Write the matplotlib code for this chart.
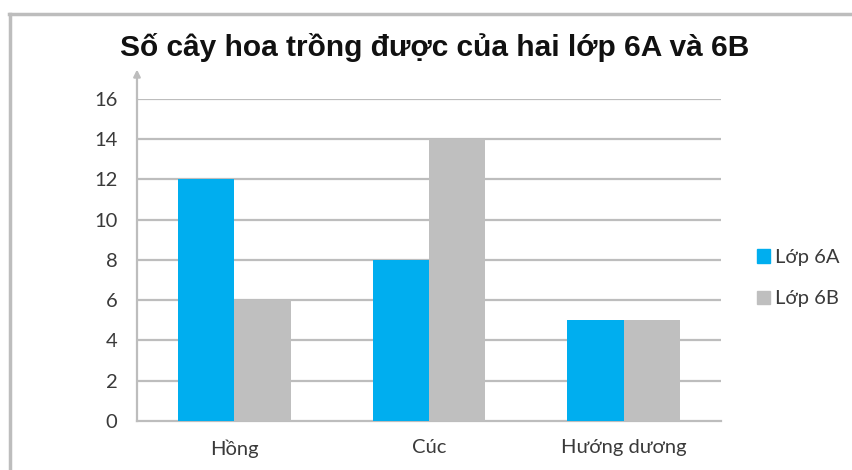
import numpy as np
import matplotlib
matplotlib.use("Agg")
import matplotlib.pyplot as plt
from matplotlib.lines import Line2D
from matplotlib.patches import Patch

categories = ["Hồng", "Cúc", "Hướng dương"]
lop_6a = [12, 8, 5]
lop_6b = [6, 14, 5]
series_names = ["Lớp 6A", "Lớp 6B"]
yticks = [0, 2, 4, 6, 8, 10, 12, 14, 16]

BLUE = "#00AEEF"
GRAY = "#BFBFBF"
LINE = "#BDBDBD"
INK = "#3a3a3a"

fig = plt.figure(figsize=(8.53, 4.70), dpi=100)
ax = fig.add_axes([0.1606, 0.1043, 0.6847, 0.6851])

x = np.arange(len(categories))
w = 0.29
ax.bar(x - w / 2, lop_6a, w, color=BLUE, zorder=3, label=series_names[0])
ax.bar(x + w / 2, lop_6b, w, color=GRAY, zorder=3, label=series_names[1])

ax.set_xlim(-0.5, 2.5)
ax.set_ylim(0, 16)
ax.set_yticks(yticks)
ax.set_xticks(x)
ax.set_xticklabels(categories)
for t in yticks[1:]:
    ax.axhline(t, color=LINE, lw=1.6, zorder=1)

for s in ("top", "right"):
    ax.spines[s].set_visible(False)
ax.spines["left"].set_color(LINE)
ax.spines["left"].set_linewidth(1.6)
ax.spines["bottom"].set_color(LINE)
ax.spines["bottom"].set_linewidth(1.6)
ax.tick_params(length=0, labelsize=14.5, colors=INK, labelcolor=INK)
ax.tick_params(axis="y", pad=14)
ax.tick_params(axis="x", pad=13)
for lab in ax.get_xticklabels() + ax.get_yticklabels():
    lab.set_fontfamily("Lato")

# arrow on top of y axis
ax.annotate("", xy=(-0.5, 17.6), xytext=(-0.5, 15.9),
            arrowprops=dict(arrowstyle="-|>", color=LINE, lw=1.6,
                            mutation_scale=10),
            annotation_clip=False)

fig.text(0.51, 0.900, "Số cây hoa trồng được của hai lớp 6A và 6B",
         ha="center", va="center", fontsize=21.5, fontweight="bold",
         family="Liberation Sans", color="#111111")

handles = [Patch(color=BLUE), Patch(color=GRAY)]
fig.legend(handles, series_names, loc="center left",
           bbox_to_anchor=(0.866, 0.408), frameon=False,
           prop={"family": "Lato", "size": 14.5}, labelcolor=INK,
           handlelength=0.65, handleheight=0.65, handletextpad=0.25,
           labelspacing=1.2)

# partial frame around the figure (top and left edges)
fig.add_artist(Line2D([0.010, 1.0], [0.970, 0.970], color="#BDBDBD", lw=2.5,
                      transform=fig.transFigure))
fig.add_artist(Line2D([0.012, 0.012], [0.0, 0.970], color="#BDBDBD", lw=2.5,
                      transform=fig.transFigure))

fig.savefig("out.png", dpi=100)
